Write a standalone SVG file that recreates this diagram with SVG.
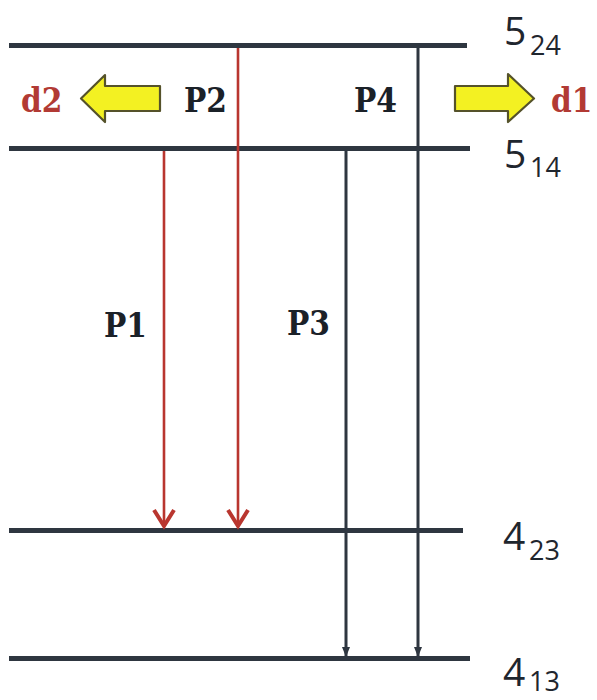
<svg xmlns="http://www.w3.org/2000/svg" width="597" height="700" viewBox="0 0 597 700">
  <style>
    .level { stroke: #2e3640; stroke-width: 5; fill: none; }
    .lvl-main { font-family: "Open Sans", "Liberation Sans", sans-serif; font-size: 39px; fill: #1f262e; }
    .lvl-sub { font-family: "Open Sans", "Liberation Sans", sans-serif; font-size: 27px; fill: #1f262e; }
    .plabel { font-family: "DejaVu Serif Condensed", "DejaVu Serif", serif; font-stretch: condensed; font-weight: bold; font-size: 33px; fill: #1b2128; }
    .dlabel { font-family: "DejaVu Serif Condensed", "DejaVu Serif", serif; font-stretch: condensed; font-weight: bold; font-size: 33px; fill: #b23a34; }
    .red { stroke: #b9362f; stroke-width: 2.6; fill: none; }
    .dark { stroke: #2e3640; stroke-width: 3; fill: none; }
    .bigarrow { fill: #f3f122; stroke: #55522a; stroke-width: 2.2; stroke-linejoin: round; }
  </style>
  <defs>
    <!-- open chevron head, drawn pointing along +x -->
    <marker id="redHead" markerUnits="userSpaceOnUse" markerWidth="24" markerHeight="26" refX="19" refY="13" orient="auto" viewBox="0 0 24 26">
      <path d="M3,3 L19,13 L3,23" fill="none" stroke="#b9362f" stroke-width="4" stroke-linejoin="miter"/>
    </marker>
    <!-- small filled head -->
    <marker id="darkHead" markerUnits="userSpaceOnUse" markerWidth="12" markerHeight="12" refX="11" refY="6" orient="auto" viewBox="0 0 12 12">
      <path d="M1,2 L11,6 L1,10 Z" fill="#2e3640"/>
    </marker>
  </defs>

  <rect width="597" height="700" fill="#ffffff"/>

  <!-- energy levels -->
  <g id="level-5-24">
    <line class="level" x1="9" y1="45.5" x2="467" y2="45.5"/>
    <text><tspan class="lvl-main" x="504" y="45">5</tspan><tspan class="lvl-sub" x="530" y="55">24</tspan></text>
  </g>
  <g id="level-5-14">
    <line class="level" x1="9" y1="148.5" x2="470" y2="148.5"/>
    <text><tspan class="lvl-main" x="504" y="168">5</tspan><tspan class="lvl-sub" x="530" y="177">14</tspan></text>
  </g>
  <g id="level-4-23">
    <line class="level" x1="9" y1="530.5" x2="463" y2="530.5"/>
    <text><tspan class="lvl-main" x="503" y="550">4</tspan><tspan class="lvl-sub" x="529" y="560">23</tspan></text>
  </g>
  <g id="level-4-13">
    <line class="level" x1="9" y1="658.5" x2="470" y2="658.5"/>
    <text><tspan class="lvl-main" x="503" y="686">4</tspan><tspan class="lvl-sub" x="529" y="691">13</tspan></text>
  </g>

  <!-- transitions -->
  <g id="transitions">
    <line class="red" x1="164" y1="151" x2="164" y2="526" marker-end="url(#redHead)"/>
    <line class="red" x1="238" y1="48" x2="238" y2="526" marker-end="url(#redHead)"/>
    <line class="dark" x1="346" y1="150" x2="346" y2="657" marker-end="url(#darkHead)"/>
    <line class="dark" x1="418" y1="47" x2="418" y2="657" marker-end="url(#darkHead)"/>
  </g>

  <!-- transition labels -->
  <g id="label-P1"><text class="plabel" x="104" y="337">P1</text></g>
  <g id="label-P2"><text class="plabel" x="184" y="112">P2</text></g>
  <g id="label-P3"><text class="plabel" x="287" y="335">P3</text></g>
  <g id="label-P4"><text class="plabel" x="354" y="112">P4</text></g>

  <!-- displacement arrows -->
  <g id="arrow-d2">
    <path class="bigarrow" d="M160,86 L105,86 L105,75 L81,98.5 L105,122 L105,111 L160,111 Z"/>
    <text class="dlabel" x="21" y="112">d2</text>
  </g>
  <g id="arrow-d1">
    <path class="bigarrow" d="M455,86 L508,86 L508,74 L534,98.5 L508,122 L508,111 L455,111 Z"/>
    <text class="dlabel" x="551" y="112">d1</text>
  </g>
</svg>
